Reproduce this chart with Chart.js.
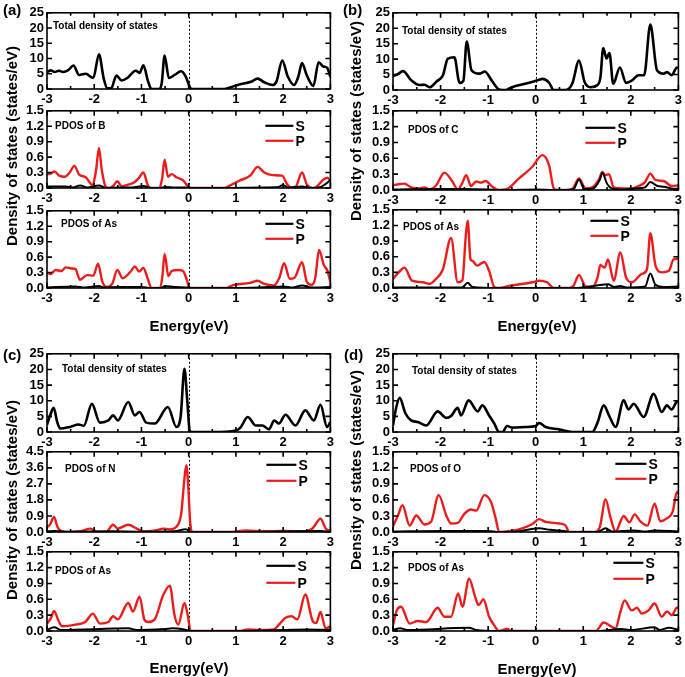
<!DOCTYPE html>
<html>
<head>
<meta charset="utf-8">
<script src="https://cdn.jsdelivr.net/npm/chart.js@4.4.1/dist/chart.umd.min.js"></script>
<style>
  body { margin: 0; background: #fff; }
  #fig { position: relative; width: 685px; height: 677px; overflow: hidden;
         font-family: "Liberation Sans", Arial, sans-serif; font-weight: bold; color: #000; }
  #fig canvas { position: absolute; }
  .txt { position: absolute; white-space: nowrap; line-height: 1; }
  .ytitle { position: absolute; white-space: nowrap; font-size: 15px; line-height: 1;
            transform: translate(-50%, -50%) rotate(-90deg); }
  .xtitle { position: absolute; white-space: nowrap; font-size: 15px; line-height: 1;
            transform: translate(-50%, -50%); }
</style>
</head>
<body>
<div id="fig"></div>
<script>
// tick labels
const xTicks = [-3, -2, -1, 0, 1, 2, 3];
const totalTicks = [0, 5, 10, 15, 20, 25];
const pdosTicks = [0, 0.3, 0.6, 0.9, 1.2, 1.5];
const nTicks = [0, 0.9, 1.8, 2.7, 3.6, 4.5];

// (a) BAs
const aTotal = [[-3,5.5],[-2.92,6.1],[-2.84,5.6],[-2.75,6.0],[-2.66,5.6],[-2.55,6.2],[-2.44,7.7],[-2.32,4.6],[-2.18,5.0],[-2.02,3.6],[-1.9,11.4],[-1.8,3.5],[-1.72,0.2],[-1.64,0.3],[-1.53,4.4],[-1.42,2.8],[-1.3,3.6],[-1.12,6.0],[-1.04,5.3],[-0.96,7.8],[-0.86,2.5],[-0.79,0],[-0.62,0],[-0.57,2],[-0.51,11],[-0.42,3.6],[-0.3,4.6],[-0.16,5.8],[-0.06,4],[0.02,0.8],[0.06,0],[0.72,0],[1.07,1.5],[1.32,2.4],[1.46,3.4],[1.6,2.2],[1.78,1.3],[1.86,2.5],[1.98,9.3],[2.1,4],[2.23,1.3],[2.32,4],[2.4,8.5],[2.5,4.5],[2.64,1.0],[2.75,8.8],[2.85,7.4],[2.93,7.0],[3,4]];
const aBP = [[-3,0.27],[-2.92,0.28],[-2.84,0.32],[-2.74,0.24],[-2.62,0.22],[-2.52,0.3],[-2.42,0.43],[-2.32,0.26],[-2.18,0.21],[-2.04,0.06],[-1.96,0.35],[-1.9,0.78],[-1.84,0.35],[-1.76,0.03],[-1.68,0],[-1.6,0.04],[-1.51,0.13],[-1.42,0.03],[-1.3,0.06],[-1.15,0.11],[-1.05,0.2],[-0.96,0.3],[-0.86,0.04],[-0.8,0],[-0.62,0],[-0.56,0.2],[-0.51,0.55],[-0.44,0.22],[-0.36,0.27],[-0.26,0.21],[-0.12,0.15],[-0.04,0.06],[0.04,0],[0.75,0],[0.9,0.06],[1.07,0.14],[1.3,0.24],[1.46,0.41],[1.6,0.3],[1.78,0.25],[1.98,0.24],[2.08,0.08],[2.18,0.01],[2.26,0.02],[2.4,0.3],[2.5,0.07],[2.62,0],[2.7,0.02],[2.86,0.17],[2.94,0.2],[3,0.13]];
const aBS = [[-3,0.03],[-2.6,0.03],[-2.45,0.01],[-2.3,0.05],[-2.15,0.01],[-1.9,0.05],[-1.75,0],[-1.5,0.01],[-1.2,0.01],[-0.96,0.04],[-0.8,0],[-0.6,0],[-0.5,0.02],[-0.3,0.01],[0,0.01],[0.05,0],[0.8,0],[1.5,0.01],[1.9,0.02],[2.0,0.06],[2.1,0.01],[2.4,0.03],[2.6,0],[2.8,0.02],[2.9,0.08],[3,0.15]];
const aAsP = [[-3,0.3],[-2.92,0.27],[-2.82,0.35],[-2.7,0.33],[-2.6,0.4],[-2.48,0.38],[-2.4,0.37],[-2.3,0.16],[-2.15,0.25],[-2.02,0.24],[-1.92,0.47],[-1.83,0.13],[-1.74,0.02],[-1.62,0.08],[-1.51,0.35],[-1.4,0.19],[-1.22,0.33],[-1.14,0.42],[-1.05,0.32],[-0.96,0.39],[-0.86,0.16],[-0.79,0],[-0.62,0],[-0.56,0.2],[-0.51,0.66],[-0.43,0.23],[-0.36,0.33],[-0.22,0.35],[-0.12,0.33],[-0.04,0.16],[0.02,0],[0.78,0],[0.96,0.06],[1.3,0.1],[1.46,0.14],[1.6,0.08],[1.8,0.05],[1.92,0.2],[2.02,0.48],[2.14,0.18],[2.24,0.2],[2.4,0.5],[2.5,0.12],[2.6,0.06],[2.68,0.2],[2.76,0.74],[2.86,0.45],[2.94,0.33],[3,0.12]];
const aAsS = [[-3,0.01],[-2.4,0.03],[-2.2,0.01],[-1.9,0.04],[-1.8,0.01],[-1.5,0.02],[-1,0.02],[-0.8,0],[-0.6,0],[-0.5,0.04],[-0.3,0.02],[0,0.01],[0.05,0],[0.8,0],[1.5,0.01],[2.0,0.03],[2.2,0.01],[2.4,0.05],[2.6,0.01],[3,0.02]];

// (b) CAs
const bTotal = [[-3,4.5],[-2.9,5.1],[-2.79,6.1],[-2.62,3.2],[-2.44,1.6],[-2.34,1.7],[-2.23,0.9],[-2.09,2.7],[-1.95,4.8],[-1.85,10.1],[-1.71,10.6],[-1.6,2.3],[-1.52,3],[-1.45,15.7],[-1.35,6.4],[-1.18,5.3],[-1.07,6.0],[-0.93,3.2],[-0.77,0.2],[-0.63,0],[-0.5,0.9],[-0.2,2.1],[0.07,3.3],[0.14,3.6],[0.28,2.4],[0.38,0],[0.63,0],[0.77,2.1],[0.91,9.5],[1.03,2.5],[1.15,0.9],[1.3,1.6],[1.36,4],[1.42,13.6],[1.49,10.2],[1.55,12],[1.63,2],[1.77,7.3],[1.9,2.3],[2.02,3],[2.16,4.8],[2.28,4.8],[2.41,21.2],[2.55,6.4],[2.69,5.3],[2.76,5.8],[2.86,4.8],[2.97,7.3],[3,7.2]];
const bCP = [[-3,0.09],[-2.88,0.11],[-2.76,0.12],[-2.62,0.05],[-2.45,0.03],[-2.34,0.05],[-2.23,0.01],[-2.09,0.09],[-1.92,0.33],[-1.75,0.16],[-1.64,0.01],[-1.55,0.12],[-1.46,0.28],[-1.36,0.075],[-1.25,0.16],[-1.15,0.14],[-1.05,0.17],[-0.91,0.06],[-0.77,0],[-0.63,0.01],[-0.35,0.22],[-0.07,0.44],[0.14,0.66],[0.28,0.47],[0.38,0.03],[0.45,0],[0.63,0],[0.77,0.02],[0.91,0.22],[1.05,0.03],[1.19,0.05],[1.33,0.2],[1.4,0.34],[1.47,0.28],[1.54,0.3],[1.64,0.05],[1.82,0.03],[2.02,0.03],[2.16,0.075],[2.3,0.15],[2.41,0.31],[2.52,0.19],[2.69,0.17],[2.86,0.075],[3,0.09]];
const bCS = [[-3,0.01],[-2,0.02],[-1.5,0.02],[-1,0.01],[-0.77,0],[-0.6,0],[0,0.01],[0.38,0],[0.65,0],[0.8,0.02],[0.91,0.2],[1.02,0.02],[1.2,0.03],[1.35,0.2],[1.4,0.32],[1.5,0.12],[1.6,0.03],[1.8,0.01],[2.1,0.03],[2.3,0.05],[2.41,0.15],[2.55,0.08],[2.7,0.06],[2.85,0.03],[3,0.02]];
const bAsP = [[-3,0.17],[-2.88,0.3],[-2.76,0.39],[-2.6,0.14],[-2.37,0.11],[-2.23,0.08],[-2.1,0.17],[-1.95,0.36],[-1.78,0.96],[-1.64,0.11],[-1.54,0.15],[-1.47,1.0],[-1.43,1.29],[-1.37,0.55],[-1.33,0.52],[-1.23,0.43],[-1.08,0.5],[-0.98,0.33],[-0.87,0.02],[-0.77,0],[-0.56,0.04],[-0.07,0.11],[0.07,0.14],[0.24,0.11],[0.38,0],[0.7,0],[0.8,0.05],[0.91,0.25],[1.05,0.03],[1.19,0.02],[1.3,0.2],[1.36,0.44],[1.45,0.39],[1.52,0.55],[1.64,0.14],[1.78,0.68],[1.9,0.2],[2.02,0.11],[2.23,0.27],[2.34,0.36],[2.41,1.05],[2.52,0.425],[2.66,0.3],[2.8,0.33],[2.9,0.55],[3,0.56]];
const bAsS = [[-3,0.01],[-1.55,0.01],[-1.43,0.1],[-1.33,0.02],[-0.8,0],[0.4,0],[0.7,0],[1,0.01],[1.52,0.07],[1.65,0.02],[1.78,0.04],[1.9,0.01],[2.3,0.03],[2.41,0.28],[2.52,0.06],[2.7,0.02],[3,0.03]];

// (c) NAs
const cTotal = [[-3,2.3],[-2.94,5],[-2.86,7.7],[-2.78,3],[-2.72,1.1],[-2.52,1.6],[-2.33,2.4],[-2.22,2],[-2.05,9.0],[-1.88,3.0],[-1.7,3.7],[-1.6,5.3],[-1.5,3.7],[-1.28,9.6],[-1.14,5.3],[-1.04,6.4],[-0.9,3.0],[-0.72,2.7],[-0.44,8.0],[-0.26,1.6],[-0.17,5],[-0.09,20.2],[-0.03,10],[0.02,0.5],[0.06,0],[0.5,0],[1.0,0.5],[1.1,1.5],[1.25,4.8],[1.42,2.1],[1.56,2.1],[1.7,0.85],[1.81,3.7],[1.91,2.7],[2.05,5.5],[2.26,2.1],[2.47,6.9],[2.65,3.7],[2.79,8.7],[2.93,1.6],[3,3.2]];
const cNP = [[-3,0.28],[-2.94,0.4],[-2.85,0.84],[-2.78,0.3],[-2.72,0.09],[-2.6,0],[-2.3,0.04],[-2.08,0.19],[-1.94,0],[-1.75,0],[-1.6,0.41],[-1.5,0.19],[-1.28,0.41],[-1.1,0.19],[-0.96,0.04],[-0.7,0.09],[-0.54,0.19],[-0.4,0.15],[-0.26,0.3],[-0.16,1.0],[-0.09,3.0],[-0.05,3.75],[-0.01,2.6],[0.03,0.6],[0.07,0],[0.9,0],[1.21,0.09],[1.6,0.04],[2,0.06],[2.4,0.02],[2.62,0.2],[2.79,0.74],[2.9,0.2],[3,0.04]];
const cNS = [[-3,0.04],[-2.85,0.06],[-2.6,0.02],[-1.6,0.04],[-1,0.02],[-0.3,0.04],[-0.06,0.15],[0.05,0],[1,0],[2.79,0.05],[3,0.01]];
const cAsP = [[-3,0.14],[-2.92,0.24],[-2.85,0.38],[-2.76,0.2],[-2.68,0.09],[-2.4,0.12],[-2.19,0.17],[-2.03,0.33],[-1.88,0.14],[-1.7,0.17],[-1.6,0.28],[-1.5,0.22],[-1.28,0.53],[-1.18,0.37],[-1.04,0.65],[-0.94,0.22],[-0.86,0.17],[-0.72,0.22],[-0.54,0.68],[-0.4,0.86],[-0.3,0.3],[-0.22,0.12],[-0.09,0.53],[-0.02,0.3],[0.04,0],[1.1,0],[1.25,0.03],[1.5,0.02],[1.8,0.03],[1.91,0.12],[2.05,0.25],[2.18,0.28],[2.3,0.22],[2.47,0.69],[2.62,0.2],[2.7,0.15],[2.79,0.36],[2.9,0.05],[3,0.09]];
const cAsS = [[-3,0.02],[-2.85,0.07],[-2.7,0.02],[-1.28,0.05],[-1.1,0.02],[-0.5,0.04],[-0.35,0.05],[-0.1,0.03],[0.04,0],[1.1,0],[2.5,0.03],[3,0.02]];

// (d) OAs
const dTotal = [[-3,2.1],[-2.93,8],[-2.86,10.9],[-2.74,6],[-2.62,3.7],[-2.48,3.2],[-2.3,2.1],[-2.06,6.6],[-1.88,4.5],[-1.78,5.1],[-1.64,7.7],[-1.57,5.3],[-1.41,10.1],[-1.22,6.6],[-1.12,8.5],[-0.98,5.3],[-0.87,2.7],[-0.77,0],[-0.7,0],[-0.6,1.9],[-0.49,1.4],[-0.21,1.6],[0,1.9],[0.07,2.9],[0.21,1.6],[0.49,0.85],[0.77,0],[1.19,0],[1.3,3],[1.43,8.5],[1.55,5],[1.68,1.6],[1.85,10.1],[1.95,7.2],[2.06,9.0],[2.27,4.8],[2.48,12.2],[2.65,6.4],[2.76,8.5],[2.86,7.2],[2.96,9.6],[3,9.8]];
const dOP = [[-3,0.11],[-2.9,0.3],[-2.8,0.5],[-2.65,0.12],[-2.51,0.31],[-2.34,0.14],[-2.2,0.19],[-2.04,0.69],[-1.88,0.31],[-1.78,0.16],[-1.64,0.17],[-1.5,0.34],[-1.36,0.42],[-1.25,0.4],[-1.08,0.69],[-0.94,0.56],[-0.84,0.25],[-0.77,0],[-0.63,0.01],[-0.35,0.05],[-0.07,0.15],[0.07,0.24],[0.21,0.19],[0.49,0.16],[0.63,0.12],[0.7,0],[1.25,0],[1.35,0.1],[1.47,0.61],[1.57,0.28],[1.68,0.01],[1.85,0.3],[1.97,0.18],[2.08,0.33],[2.2,0.2],[2.35,0.12],[2.5,0.53],[2.62,0.2],[2.75,0.25],[2.88,0.38],[2.97,0.75],[3,0.72]];
const dOS = [[-3,0.01],[-2,0.02],[-1,0.02],[-0.77,0],[-0.4,0.01],[0.07,0.07],[0.3,0.04],[0.6,0.02],[0.75,0],[1.3,0],[1.47,0.07],[1.6,0.01],[2.06,0.03],[2.3,0.01],[2.5,0.03],[3,0.01]];
const dAsP = [[-3,0.11],[-2.92,0.39],[-2.83,0.46],[-2.65,0.14],[-2.48,0.19],[-2.3,0.17],[-2.06,0.44],[-1.92,0.27],[-1.78,0.27],[-1.63,0.71],[-1.54,0.46],[-1.4,0.99],[-1.27,0.64],[-1.2,0.49],[-1.1,0.6],[-0.98,0.27],[-0.88,0.12],[-0.77,0],[-0.6,0.04],[-0.5,0],[1.26,0],[1.43,0.16],[1.6,0.08],[1.68,0.05],[1.78,0.36],[1.87,0.58],[2.02,0.39],[2.13,0.44],[2.23,0.33],[2.37,0.39],[2.5,0.52],[2.65,0.27],[2.76,0.37],[2.86,0.3],[2.97,0.44],[3,0.44]];
const dAsS = [[-3,0.02],[-2.85,0.05],[-2.7,0.02],[-1.4,0.06],[-1.25,0.02],[-0.77,0],[1.3,0],[1.8,0.04],[2.0,0.02],[2.5,0.07],[2.6,0.02],[2.8,0.06],[3,0.02]];

const RED = '#ec1c1c';
const FONT = '"Liberation Sans", Arial, sans-serif';
const fig = document.getElementById('fig');

const tot = pts => [{ pts, color: '#000', width: 2.6 }];
const pdos = (s, p) => [{ pts: s, color: '#000', width: 2 }, { pts: p, color: RED, width: 2.4 }];

// one entry per sub-plot: plot box in page pixels, text and legend offsets
const plots = [
  { l: 47, r: 332, t: 12, b: 89, ticks: totalTicks, dec: 0, label: 'Total density of states', lx: 6, ly: 13, series: tot(aTotal) },
  { l: 47, r: 332, t: 110, b: 188, ticks: pdosTicks, dec: 1, label: 'PDOS of B', lx: 8, ly: 15, series: pdos(aBS, aBP), leg: [65, 37, 15, 30] },
  { l: 47, r: 332, t: 210, b: 288, ticks: pdosTicks, dec: 1, label: 'PDOS of As', lx: 14, ly: 13, series: pdos(aAsS, aAsP), leg: [65, 37, 13, 28] },
  { l: 393, r: 680, t: 12, b: 90, ticks: totalTicks, dec: 0, label: 'Total density of states', lx: 9, ly: 18, series: tot(bTotal) },
  { l: 393, r: 680, t: 110, b: 190, ticks: pdosTicks, dec: 1, label: 'PDOS of C', lx: 15, ly: 19, series: pdos(bCS, bCP), leg: [93, 63, 17, 32] },
  { l: 393, r: 680, t: 209, b: 288, ticks: pdosTicks, dec: 1, label: 'PDOS of As', lx: 10, ly: 17, series: pdos(bAsS, bAsP), leg: [88, 60, 11, 26] },
  { l: 47, r: 332, t: 353, b: 432, ticks: totalTicks, dec: 0, label: 'Total density of states', lx: 15, ly: 15, series: tot(cTotal) },
  { l: 47, r: 332, t: 451, b: 532, ticks: nTicks, dec: 1, label: 'PDOS of N', lx: 18, ly: 17, series: pdos(cNS, cNP), leg: [64, 34, 13, 29] },
  { l: 47, r: 332, t: 551, b: 631, ticks: pdosTicks, dec: 1, label: 'PDOS of As', lx: 8, ly: 19, series: pdos(cAsS, cAsP), leg: [64, 35, 14, 31] },
  { l: 393, r: 680, t: 353, b: 432, ticks: totalTicks, dec: 0, label: 'Total density of states', lx: 19, ly: 17, series: tot(dTotal) },
  { l: 393, r: 680, t: 451, b: 532, ticks: pdosTicks, dec: 1, label: 'PDOS of O', lx: 17, ly: 17, series: pdos(dOS, dOP), leg: [63, 32, 12, 27] },
  { l: 393, r: 680, t: 551, b: 631, ticks: pdosTicks, dec: 1, label: 'PDOS of As', lx: 15, ly: 16, series: pdos(dAsS, dAsP), leg: [65, 35, 11, 27] }
];

// frame, inward ticks, zero line, inner label and S/P legend
const decoPlugin = p => ({
  id: 'deco',
  beforeDatasetsDraw(chart) {
    const { ctx, chartArea: a, scales: { x } } = chart;
    const x0 = x.getPixelForValue(0);
    ctx.save();
    ctx.strokeStyle = '#000';
    ctx.lineWidth = 1;
    ctx.setLineDash([2, 2]);
    ctx.beginPath();
    ctx.moveTo(Math.round(x0) + 0.5, a.top);
    ctx.lineTo(Math.round(x0) + 0.5, a.bottom);
    ctx.stroke();
    ctx.restore();
  },
  afterDatasetsDraw(chart) {
    const { ctx, chartArea: a, scales: { x, y } } = chart;
    ctx.save();
    ctx.strokeStyle = '#000';
    ctx.lineWidth = 1.6;
    ctx.strokeRect(a.left, a.top, a.right - a.left, a.bottom - a.top);
    ctx.beginPath();
    for (let i = 0; i <= 12; i++) {
      const px = x.getPixelForValue(-3 + i * 0.5);
      const len = i % 2 === 0 ? 5 : 3;
      ctx.moveTo(px, a.bottom); ctx.lineTo(px, a.bottom - len);
      ctx.moveTo(px, a.top); ctx.lineTo(px, a.top + len);
    }
    p.ticks.forEach(v => {
      const py = y.getPixelForValue(v);
      ctx.moveTo(a.left, py); ctx.lineTo(a.left + 5, py);
      ctx.moveTo(a.right, py); ctx.lineTo(a.right - 5, py);
    });
    ctx.stroke();

    ctx.fillStyle = '#000';
    ctx.font = 'bold 10px ' + FONT;
    ctx.textBaseline = 'middle';
    ctx.textAlign = 'left';
    ctx.fillText(p.label, a.left + p.lx, a.top + p.ly);

    if (p.leg) {
      const [x1, x2, y1, y2] = p.leg;
      ctx.lineWidth = 2.2;
      ctx.strokeStyle = '#000';
      ctx.beginPath(); ctx.moveTo(a.right - x1, a.top + y1); ctx.lineTo(a.right - x2, a.top + y1); ctx.stroke();
      ctx.strokeStyle = RED;
      ctx.beginPath(); ctx.moveTo(a.right - x1, a.top + y2); ctx.lineTo(a.right - x2, a.top + y2); ctx.stroke();
      ctx.font = 'bold 14px ' + FONT;
      ctx.fillText('S', a.right - x2 + 2, a.top + y1 + 1);
      ctx.fillText('P', a.right - x2 + 2, a.top + y2 + 1);
    }
    ctx.restore();
  }
});

function makePlot(p) {
  const padL = 44, padT = 10, padR = 5, padB = 20;
  const cv = document.createElement('canvas');
  cv.width = p.r - p.l + padL + padR;
  cv.height = p.b - p.t + padT + padB;
  cv.style.left = (p.l - padL) + 'px';
  cv.style.top = (p.t - padT) + 'px';
  fig.appendChild(cv);
  const tickFont = { family: FONT, size: 13, weight: 'bold' };
  new Chart(cv, {
    type: 'line',
    data: {
      datasets: p.series.map(s => ({
        data: s.pts.map(([x, y]) => ({ x, y })),
        borderColor: s.color,
        borderWidth: s.width,
        pointRadius: 0,
        fill: false,
        cubicInterpolationMode: 'monotone'
      }))
    },
    options: {
      responsive: false,
      animation: false,
      devicePixelRatio: 1,
      layout: { padding: { left: 0, top: padT, right: padR, bottom: 0 } },
      plugins: { legend: { display: false }, tooltip: { enabled: false } },
      scales: {
        x: {
          type: 'linear', min: -3, max: 3,
          grid: { display: false, drawTicks: false },
          border: { display: false },
          afterBuildTicks: ax => { ax.ticks = xTicks.map(v => ({ value: v })); },
          afterFit: ax => { ax.height = padB; },
          ticks: { padding: 3, color: '#000', font: tickFont, maxRotation: 0, autoSkip: false,
                   callback: v => String(v) }
        },
        y: {
          type: 'linear', min: 0, max: p.ticks[p.ticks.length - 1],
          grid: { display: false, drawTicks: false },
          border: { display: false },
          afterBuildTicks: ax => { ax.ticks = p.ticks.map(v => ({ value: v })); },
          afterFit: ax => { ax.width = padL; },
          ticks: { padding: 3, color: '#000', font: tickFont, autoSkip: false,
                   callback: v => v.toFixed(p.dec) }
        }
      }
    },
    plugins: [decoPlugin(p)]
  });
}

plots.forEach(makePlot);

// page texts
function addText(cls, text, x, y, size) {
  const d = document.createElement('div');
  d.className = cls;
  d.textContent = text;
  d.style.left = x + 'px';
  d.style.top = y + 'px';
  if (size) d.style.fontSize = size + 'px';
  fig.appendChild(d);
}
addText('txt', '(a)', 3, 2, 15);
addText('txt', '(b)', 343, 2, 15);
addText('txt', '(c)', 3, 347, 15);
addText('txt', '(d)', 344, 347, 15);
addText('ytitle', 'Density of states (states/eV)', 11, 146);
addText('ytitle', 'Density of states (states/eV)', 355, 121);
addText('ytitle', 'Density of states (states/eV)', 11, 500);
addText('ytitle', 'Density of states (states/eV)', 355, 470);
addText('xtitle', 'Energy(eV)', 189, 325);
addText('xtitle', 'Energy(eV)', 537, 325);
addText('xtitle', 'Energy(eV)', 189, 667);
addText('xtitle', 'Energy(eV)', 537, 668);
</script>
</body>
</html>
